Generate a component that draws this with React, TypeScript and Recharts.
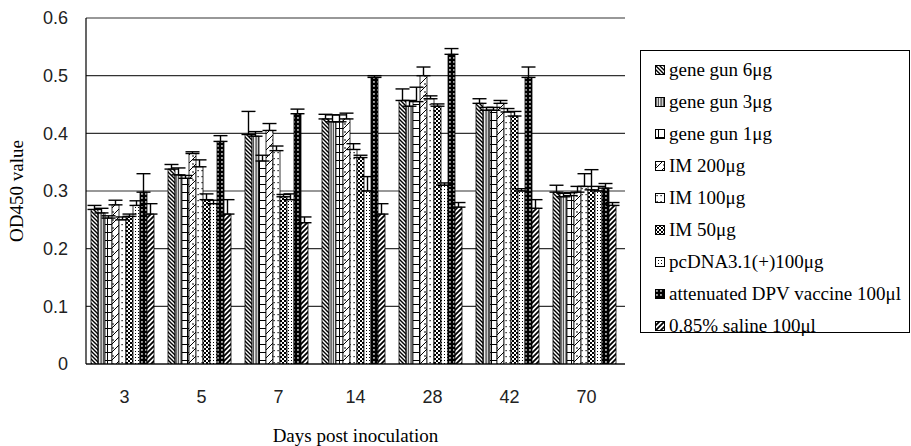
import React from 'react';
import { BarChart, Bar, XAxis, YAxis, CartesianGrid, ErrorBar, Label } from 'recharts';

// values, one entry per day
const days = ['3', '5', '7', '14', '28', '42', '70'];
const yTicks = [0, 0.1, 0.2, 0.3, 0.4, 0.5, 0.6];

const geneGun6 = [0.268, 0.338, 0.398, 0.425, 0.457, 0.452, 0.298];
const geneGun6Err = [0.007, 0.008, 0.04, 0.008, 0.02, 0.008, 0.012];
const geneGun3 = [0.262, 0.328, 0.395, 0.42, 0.447, 0.44, 0.29];
const geneGun3Err = [0.008, 0.012, 0.008, 0.012, 0.01, 0.005, 0.006];
const geneGun1 = [0.253, 0.322, 0.352, 0.42, 0.455, 0.44, 0.292];
const geneGun1Err = [0.004, 0.005, 0.01, 0.012, 0.025, 0.005, 0.005];
const im200 = [0.276, 0.365, 0.405, 0.425, 0.5, 0.452, 0.298];
const im200Err = [0.008, 0.003, 0.012, 0.01, 0.015, 0.005, 0.01];
const im100 = [0.25, 0.342, 0.37, 0.372, 0.46, 0.437, 0.308];
const im100Err = [0.005, 0.012, 0.008, 0.01, 0.005, 0.006, 0.022];
const im50 = [0.256, 0.285, 0.29, 0.358, 0.447, 0.43, 0.302];
const im50Err = [0.004, 0.01, 0.004, 0.004, 0.004, 0.008, 0.035];
const pcDNA = [0.275, 0.278, 0.285, 0.3, 0.31, 0.3, 0.3];
const pcDNAErr = [0.008, 0.006, 0.01, 0.025, 0.004, 0.004, 0.008];
const dpv = [0.298, 0.386, 0.434, 0.497, 0.537, 0.497, 0.305];
const dpvErr = [0.032, 0.01, 0.008, 0.003, 0.01, 0.018, 0.008];
const saline = [0.26, 0.26, 0.245, 0.26, 0.272, 0.27, 0.275];
const salineErr = [0.018, 0.025, 0.01, 0.018, 0.008, 0.015, 0.005];

const series = [
  { key: 'gg6', name: 'gene gun 6μg', values: geneGun6, errors: geneGun6Err, pattern: 'diagBack' },
  { key: 'gg3', name: 'gene gun 3μg', values: geneGun3, errors: geneGun3Err, pattern: 'vert' },
  { key: 'gg1', name: 'gene gun 1μg', values: geneGun1, errors: geneGun1Err, pattern: 'ladder' },
  { key: 'im200', name: 'IM 200μg', values: im200, errors: im200Err, pattern: 'zig' },
  { key: 'im100', name: 'IM 100μg', values: im100, errors: im100Err, pattern: 'sparseDots' },
  { key: 'im50', name: 'IM 50μg', values: im50, errors: im50Err, pattern: 'checker' },
  { key: 'pc', name: 'pcDNA3.1(+)100μg', values: pcDNA, errors: pcDNAErr, pattern: 'fineDots' },
  { key: 'dpv', name: 'attenuated DPV vaccine 100μl', values: dpv, errors: dpvErr, pattern: 'blackDots' },
  { key: 'sal', name: '0.85% saline 100μl', values: saline, errors: salineErr, pattern: 'diagFwd' },
];

const data = days.map((day, i) => {
  const row: any = { day };
  series.forEach((s) => {
    row[s.key] = s.values[i];
    row[s.key + 'Err'] = s.errors[i];
  });
  return row;
});

const serif = '"Liberation Serif", "Times New Roman", serif';
const sans = '"Liberation Sans", Arial, sans-serif';

function Patterns({ prefix }: { prefix: string }) {
  const id = (n: string) => prefix + n;
  return (
    <defs>
      <pattern id={id('diagBack')} patternUnits="userSpaceOnUse" width="4" height="4">
        <rect width="4" height="4" fill="#fff" />
        <path d="M-1,-1 L5,5 M-1,3 L1,5 M3,-1 L5,1" stroke="#000" strokeWidth="1.4" />
      </pattern>
      <pattern id={id('vert')} patternUnits="userSpaceOnUse" width="2.5" height="4">
        <rect width="2.5" height="4" fill="#fff" />
        <path d="M1,0 V4" stroke="#000" strokeWidth="1" />
      </pattern>
      <pattern id={id('ladder')} patternUnits="userSpaceOnUse" width="8" height="8">
        <rect width="8" height="8" fill="#fff" />
        <path d="M0,0.5 H8 M3.5,0 V8" stroke="#000" strokeWidth="1" />
      </pattern>
      <pattern id={id('zig')} patternUnits="userSpaceOnUse" width="8" height="8">
        <rect width="8" height="8" fill="#fff" />
        <path d="M0,8 L8,0 M0,4 H2" stroke="#000" strokeWidth="1" />
      </pattern>
      <pattern id={id('sparseDots')} patternUnits="userSpaceOnUse" width="4" height="6">
        <rect width="4" height="6" fill="#fff" />
        <rect x="1.5" y="2" width="1.2" height="1.2" fill="#000" />
      </pattern>
      <pattern id={id('checker')} patternUnits="userSpaceOnUse" width="4" height="4">
        <rect width="4" height="4" fill="#fff" />
        <rect x="0" y="0" width="2" height="2" fill="#000" />
        <rect x="2" y="2" width="2" height="2" fill="#000" />
      </pattern>
      <pattern id={id('fineDots')} patternUnits="userSpaceOnUse" width="3" height="3">
        <rect width="3" height="3" fill="#fff" />
        <rect x="0" y="0" width="1" height="1" fill="#000" />
      </pattern>
      <pattern id={id('blackDots')} patternUnits="userSpaceOnUse" width="4" height="4">
        <rect width="4" height="4" fill="#000" />
        <rect x="1.2" y="1.2" width="1.5" height="1.5" fill="#fff" />
      </pattern>
      <pattern id={id('diagFwd')} patternUnits="userSpaceOnUse" width="5" height="5">
        <rect width="5" height="5" fill="#fff" />
        <path d="M0,5 L5,0 M-1,1 L1,-1 M4,6 L6,4" stroke="#000" strokeWidth="1.8" />
      </pattern>
    </defs>
  );
}

function ChartLegend() {
  return (
    <div
      style={{
        position: 'absolute',
        left: 640,
        top: 50,
        width: 270,
        height: 283,
        border: '1px solid #000',
        boxSizing: 'border-box',
        background: '#fff',
        paddingTop: 3,
      }}
    >
      <svg width="0" height="0" style={{ position: 'absolute' }}>
        <Patterns prefix="lg-" />
      </svg>
      {series.map((s) => (
        <div key={s.key} style={{ height: 32, display: 'flex', alignItems: 'center', whiteSpace: 'nowrap' }}>
          <svg width="10" height="10" style={{ marginLeft: 14, marginRight: 4 }}>
            <rect x="0.5" y="0.5" width="9" height="9" fill={`url(#lg-${s.pattern})`} stroke="#000" />
          </svg>
          <span style={{ fontFamily: serif, fontSize: 19, color: '#000' }}>{s.name}</span>
        </div>
      ))}
    </div>
  );
}

export default function App() {
  return (
    <div style={{ position: 'absolute', left: 0, top: 0, width: 911, height: 446, background: '#fff' }}>
      <BarChart
        width={911}
        height={446}
        data={data}
        margin={{ top: 18, right: 286, bottom: 0, left: 26 }}
        barGap={0}
        barCategoryGap={5}
      >
        <Patterns prefix="ch-" />
        <CartesianGrid vertical={false} stroke="#333" strokeWidth={1.2} />
        <XAxis
          dataKey="day"
          height={82}
          axisLine={{ stroke: '#000', strokeWidth: 1.2 }}
          tickLine={false}
          tickSize={0}
          tickMargin={26}
          tick={{ fontFamily: sans, fontSize: 18, fill: '#222' }}
        >
          <Label
            value="Days post inoculation"
            position="insideBottom"
            offset={4}
            style={{ fontFamily: serif, fontSize: 19, fill: '#000' }}
          />
        </XAxis>
        <YAxis
          width={60}
          domain={[0, 0.6]}
          ticks={yTicks}
          allowDataOverflow
          axisLine={{ stroke: '#000', strokeWidth: 1.2 }}
          tickLine={false}
          tickSize={0}
          tickMargin={18}
          tickFormatter={(v: number) => String(v)}
          tick={{ fontFamily: sans, fontSize: 18, fill: '#222' }}
        >
          <Label
            content={({ viewBox }: any) => {
              const cx = viewBox.x - 10;
              const cy = viewBox.y + viewBox.height / 2;
              return (
                <text
                  x={cx}
                  y={cy}
                  transform={`rotate(-90 ${cx} ${cy})`}
                  textAnchor="middle"
                  dominantBaseline="central"
                  style={{ fontFamily: serif, fontSize: 19, fill: '#000' }}
                >
                  OD450 value
                </text>
              );
            }}
          />
        </YAxis>
        <YAxis
          yAxisId="frame"
          orientation="right"
          width={0}
          axisLine={{ stroke: '#999', strokeWidth: 1.5 }}
          tick={false}
          tickLine={false}
        />
        {series.map((s) => (
          <Bar
            key={s.key}
            dataKey={s.key}
            name={s.name}
            fill={`url(#ch-${s.pattern})`}
            stroke="#000"
            strokeWidth={0.8}
            isAnimationActive={false}
          >
            <ErrorBar
              dataKey={(d: any) => [0, d[s.key + 'Err']]}
              width={7}
              stroke="#000"
              strokeWidth={1.4}
            />
          </Bar>
        ))}
      </BarChart>
      <ChartLegend />
    </div>
  );
}
